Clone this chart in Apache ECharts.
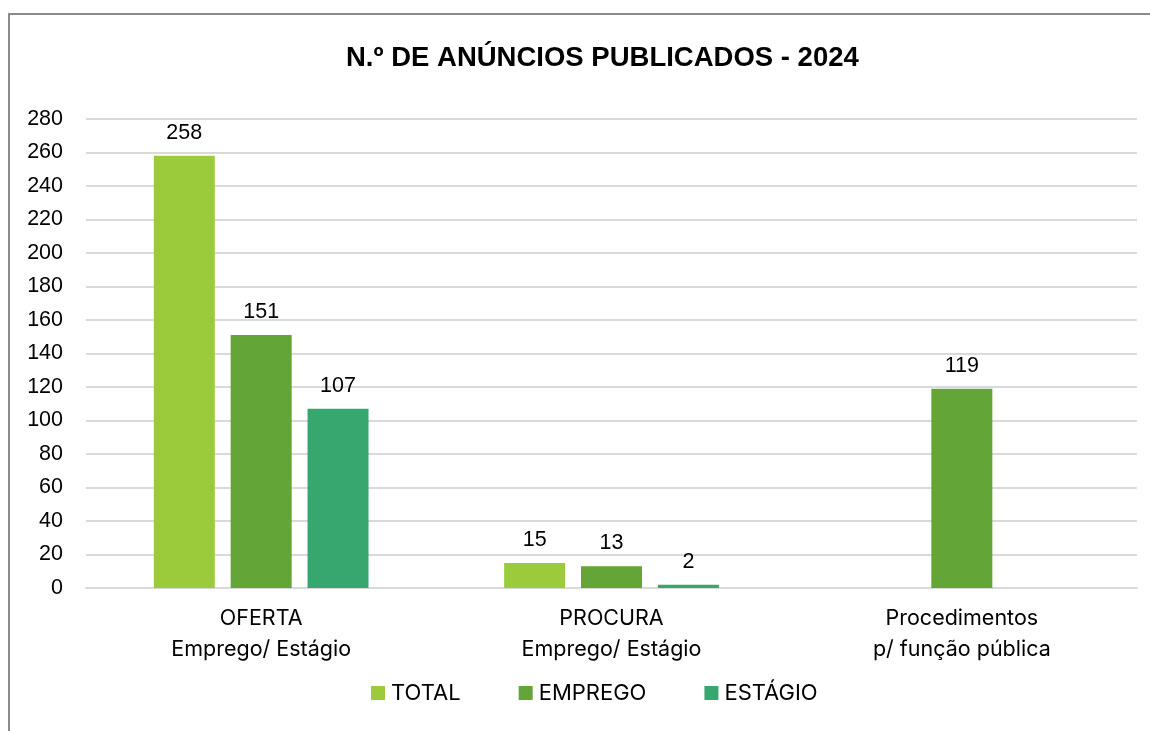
<!DOCTYPE html>
<html><head><meta charset="utf-8">
<script src="https://cdn.jsdelivr.net/npm/echarts@6/dist/echarts.min.js"></script>
<style>html,body{margin:0;padding:0;background:#fff}#c{width:1150px;height:731px}</style>
</head><body><div id="c"></div>
<script>
const categories = ['OFERTA\nEmprego/ Estágio', 'PROCURA\nEmprego/ Estágio', 'Procedimentos\np/ função pública'];
const seriesNames = ['TOTAL', 'EMPREGO', 'ESTÁGIO'];
const totalValues = [258, 15, null];
const empregoValues = [151, 13, 119];
const estagioValues = [107, 2, null];
const colors = ['#9BCB3B', '#63A537', '#37A76F'];

const chart = echarts.init(document.getElementById('c'), null, {renderer: 'canvas'});
const numFont = 'Liberation Sans';
const txtFont = 'Inter';
function mk(name, data, color) {
  return {
    name: name, type: 'bar', data: data, barWidth: 61, barGap: '26%',
    itemStyle: {color: color},
    label: {show: true, position: 'top', distance: 12, color: '#000', fontFamily: numFont, fontSize: 21.5}
  };
}
chart.setOption({
  animation: false,
  backgroundColor: '#fff',
  graphic: [{type: 'rect', shape: {x: 9, y: 14, width: 1200, height: 800}, style: {fill: 'none', stroke: '#8a8a8a', lineWidth: 2}}],
  title: {text: 'N.º DE ANÚNCIOS PUBLICADOS - 2024', left: 341, top: 39,
    textStyle: {fontFamily: numFont, fontWeight: 'bold', fontSize: 27.5, color: '#000'}},
  legend: {bottom: 22, left: 366, itemWidth: 14, itemHeight: 14, itemGap: 58, icon: 'rect',
    textStyle: {fontFamily: txtFont, fontSize: 22, color: '#000', padding: [0,0,0,1]},
    data: seriesNames},
  grid: {left: 86, right: 13, top: 119, bottom: 143, containLabel: false},
  xAxis: {type: 'category', data: categories,
    axisLine: {show: true, lineStyle: {color: '#D9D9D9', width: 2}},
    axisTick: {show: false},
    axisLabel: {margin: 15, fontFamily: txtFont, fontSize: 21.5, color: '#000', lineHeight: 31}},
  yAxis: {type: 'value', min: 0, max: 280, interval: 20,
    axisLine: {show: false}, axisTick: {show: false},
    splitLine: {lineStyle: {color: '#D9D9D9', width: 2}},
    axisLabel: {margin: 23, fontFamily: numFont, fontSize: 21.5, color: '#000'}},
  series: [mk(seriesNames[0], totalValues, colors[0]), mk(seriesNames[1], empregoValues, colors[1]), mk(seriesNames[2], estagioValues, colors[2])]
});
</script></body></html>
